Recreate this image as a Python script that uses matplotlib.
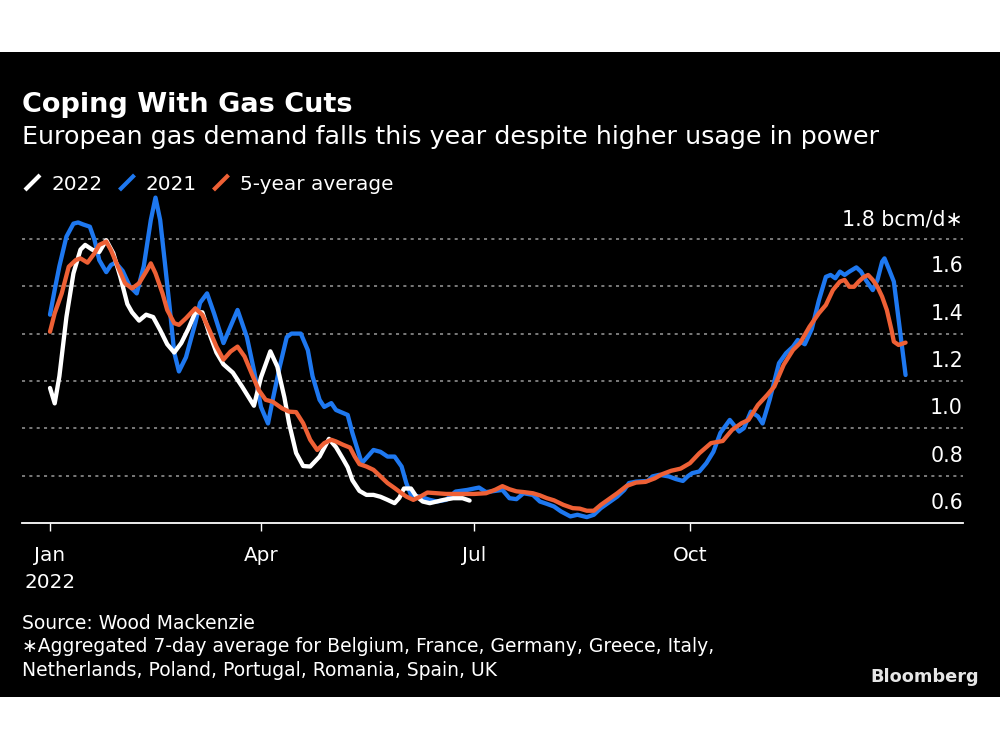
import matplotlib
matplotlib.use('Agg')
import matplotlib.pyplot as plt
from matplotlib.lines import Line2D
from matplotlib.patches import Rectangle
import numpy as np
import pandas as pd

plt.rcParams['font.family'] = ['DejaVu Sans']

# ---------------- data (day offsets from 1 Jan 2022, bcm/d) ----------------
START = '2022-01-01'

days_2022 = [0, 2, 4, 7, 10, 13, 15, 18, 21, 24, 27, 30, 33, 35, 38, 41, 44, 47, 50, 53,
             56, 59, 62, 65, 68, 71, 74, 78, 82, 87, 90, 94, 97, 100, 102, 105, 108, 111,
             115, 119, 122, 125, 127, 129, 132, 135, 138, 141, 144, 147, 149, 151, 154,
             156, 159, 162, 165, 168, 172, 176, 179]
vals_2022 = [1.17, 1.105, 1.22, 1.47, 1.655, 1.755, 1.775, 1.755, 1.745, 1.795, 1.74, 1.64,
             1.525, 1.49, 1.455, 1.48, 1.47, 1.415, 1.355, 1.32, 1.36, 1.42, 1.49, 1.49,
             1.40, 1.32, 1.27, 1.235, 1.175, 1.095, 1.215, 1.325, 1.26, 1.13, 1.02, 0.895,
             0.84, 0.838, 0.88, 0.955, 0.92, 0.87, 0.835, 0.78, 0.735, 0.718, 0.718, 0.71,
             0.697, 0.683, 0.705, 0.745, 0.745, 0.715, 0.69, 0.683, 0.69, 0.697, 0.704,
             0.704, 0.694]

days_2021 = [0, 2, 4, 7, 10, 12, 14, 17, 19, 21, 24, 26, 28, 31, 34, 37, 40, 43, 45, 47,
             49, 51, 53, 55, 58, 62, 64, 67, 70, 74, 77, 80, 84, 87, 90, 93, 95, 98, 101,
             103, 107, 110, 112, 115, 117, 120, 122, 127, 129, 133, 138, 141, 144, 147,
             150, 152, 154, 158, 162, 165, 169, 173, 178, 183, 186, 190, 193, 196, 199,
             202, 206, 209, 212, 215, 218, 222, 225, 229, 232, 235, 239, 242, 245, 247,
             250, 255, 257, 260, 264, 267, 270, 272, 274, 277, 280, 283, 286, 290, 294,
             296, 299, 302, 304, 307, 311, 314, 317, 319, 322, 325, 328, 331, 333, 335,
             337, 339, 341, 344, 346, 348, 351, 353, 355, 356, 358, 360, 365]
vals_2021 = [1.48, 1.585, 1.685, 1.81, 1.865, 1.87, 1.862, 1.852, 1.796, 1.711, 1.66, 1.69,
             1.70, 1.665, 1.60, 1.57, 1.685, 1.88, 1.975, 1.88, 1.70, 1.515, 1.32, 1.24,
             1.30, 1.445, 1.53, 1.57, 1.485, 1.36, 1.43, 1.50, 1.385, 1.245, 1.09, 1.02,
             1.12, 1.26, 1.385, 1.40, 1.40, 1.33, 1.22, 1.12, 1.09, 1.106, 1.077, 1.056,
             0.98, 0.852, 0.908, 0.90, 0.88, 0.88, 0.838, 0.768, 0.718, 0.71, 0.697, 0.69,
             0.697, 0.732, 0.739, 0.749, 0.73, 0.735, 0.739, 0.704, 0.70, 0.725, 0.718,
             0.69, 0.68, 0.669, 0.648, 0.627, 0.634, 0.624, 0.634, 0.662, 0.69, 0.711,
             0.739, 0.768, 0.774, 0.777, 0.796, 0.803, 0.796, 0.785, 0.777, 0.796, 0.81,
             0.817, 0.852, 0.90, 0.98, 1.035, 0.986, 1.00, 1.07, 1.05, 1.02, 1.12, 1.275,
             1.317, 1.345, 1.373, 1.355, 1.42, 1.54, 1.64, 1.648, 1.634, 1.662, 1.648,
             1.662, 1.68, 1.662, 1.627, 1.584, 1.627, 1.704, 1.718, 1.67, 1.62, 1.225]

days_avg = [0, 2, 5, 8, 11, 13, 16, 19, 21, 24, 26, 29, 32, 35, 38, 41, 43, 45, 48, 50, 53,
            55, 58, 62, 65, 68, 71, 74, 77, 80, 83, 86, 89, 92, 95, 99, 102, 105, 108, 111,
            114, 117, 120, 122, 125, 128, 130, 132, 135, 138, 141, 144, 147, 149, 152, 155,
            158, 161, 165, 169, 175, 181, 186, 190, 193, 196, 199, 202, 206, 209, 212, 215,
            219, 223, 226, 229, 232, 235, 238, 242, 246, 250, 254, 258, 261, 265, 269, 273,
            277, 282, 287, 291, 295, 298, 302, 306, 309, 313, 317, 320, 324, 328, 331, 334,
            337, 339, 341, 343, 345, 347, 349, 351, 353, 355, 357, 359, 360, 362, 365]
vals_avg = [1.408, 1.486, 1.57, 1.683, 1.711, 1.718, 1.70, 1.74, 1.775, 1.789, 1.753, 1.683,
            1.613, 1.591, 1.613, 1.662, 1.697, 1.655, 1.57, 1.50, 1.444, 1.437, 1.465, 1.507,
            1.479, 1.415, 1.345, 1.29, 1.324, 1.345, 1.303, 1.232, 1.162, 1.12, 1.112, 1.084,
            1.07, 1.068, 1.021, 0.951, 0.908, 0.937, 0.951, 0.944, 0.93, 0.918, 0.88, 0.848,
            0.838, 0.824, 0.796, 0.768, 0.747, 0.732, 0.711, 0.697, 0.711, 0.728, 0.725,
            0.722, 0.722, 0.722, 0.725, 0.74, 0.755, 0.742, 0.733, 0.73, 0.725, 0.716, 0.704,
            0.695, 0.676, 0.662, 0.66, 0.651, 0.651, 0.676, 0.697, 0.725, 0.756, 0.77, 0.773,
            0.788, 0.805, 0.82, 0.829, 0.852, 0.894, 0.937, 0.946, 0.993, 1.021, 1.035, 1.098,
            1.141, 1.176, 1.268, 1.331, 1.36, 1.429, 1.486, 1.521, 1.584, 1.62, 1.627, 1.598,
            1.598, 1.62, 1.638, 1.648, 1.627, 1.598, 1.556, 1.50, 1.415, 1.366, 1.352, 1.362]

series_labels = ['2022', '2021', '5-year average']
series_colors = ['#ffffff', '#1e78f0', '#ee6035']

y_ticks = [0.6, 0.8, 1.0, 1.2, 1.4, 1.6, 1.8]
y_tick_labels = ['0.6', '0.8', '1.0', '1.2', '1.4', '1.6', '1.8 bcm/d\u2217']
x_tick_dates = ['2022-01-01', '2022-04-01', '2022-07-01', '2022-10-01']
x_tick_labels = ['Jan\n2022', 'Apr', 'Jul', 'Oct']

title = 'Coping With Gas Cuts'
subtitle = 'European gas demand falls this year despite higher usage in power'
footer_lines = ['Source: Wood Mackenzie',
                '\u2217Aggregated 7-day average for Belgium, France, Germany, Greece, Italy,',
                'Netherlands, Poland, Portugal, Romania, Spain, UK']


def to_dates(days):
    return pd.Timestamp(START) + pd.to_timedelta(np.asarray(days, dtype=float), unit='D')


# ---------------- figure ----------------
W, H = 1000, 750
fig = plt.figure(figsize=(W / 100, H / 100), dpi=100)
fig.patch.set_facecolor('white')


def fy(py):
    return 1 - py / H


fig.patches.append(Rectangle((0, fy(697)), 1, (697 - 52) / H, transform=fig.transFigure,
                             facecolor='black', edgecolor='none', zorder=-10))

ax = fig.add_axes([22 / W, fy(522.8), (963 - 22) / W, 1.4 * 236.5 / H])
ax.set_facecolor('none')

ax.plot(to_dates(days_2021), vals_2021, color=series_colors[1], lw=3.1,
        solid_joinstyle='round', solid_capstyle='round', zorder=3)
ax.plot(to_dates(days_2022), vals_2022, color=series_colors[0], lw=3.1,
        solid_joinstyle='round', solid_capstyle='round', zorder=4)
ax.plot(to_dates(days_avg), vals_avg, color=series_colors[2], lw=3.1,
        solid_joinstyle='round', solid_capstyle='round', zorder=5)

x_left = pd.Timestamp(START) - pd.Timedelta(days=11.95)
x_right = pd.Timestamp(START) + pd.Timedelta(days=389.5)
ax.set_xlim(x_left, x_right)
ax.set_ylim(0.6, 2.0)

# grid
ax.set_yticks(y_ticks[1:])
ax.tick_params(axis='y', length=0, labelleft=False, labelright=False)
ax.yaxis.grid(True, color='#9a9a9a', lw=1.1, linestyle=(0, (2.0, 2.8)), zorder=1)
ax.set_axisbelow(True)

for s in ['top', 'right', 'left']:
    ax.spines[s].set_visible(False)
ax.spines['bottom'].set_color('white')
ax.spines['bottom'].set_linewidth(1.3)

ax.set_xticks(pd.to_datetime(x_tick_dates))
ax.set_xticklabels(x_tick_labels, color='white', fontsize=14.4, linespacing=1.55,
                   multialignment='center')
ax.tick_params(axis='x', direction='out', length=5.8, width=1.0, color='white', pad=11)

for v, lab in zip(y_ticks, y_tick_labels):
    ax.annotate(lab, xy=(1.0, v), xycoords=('axes fraction', 'data'), xytext=(0, 10),
                textcoords='offset points', ha='right', va='baseline', color='white',
                fontsize=14.8)

# titles
fig.text(22 / W, fy(111.5), title, color='white', fontsize=19.5, fontweight='bold',
         ha='left', va='baseline')
fig.text(22 / W, fy(144), subtitle, color='white', fontsize=18.3, ha='left', va='baseline')

# legend
mark_x = [25, 119.5, 213.5]
text_x = [51.5, 145.5, 240]
for mx, tx, lab, col in zip(mark_x, text_x, series_labels, series_colors):
    fig.add_artist(Line2D([mx / W, (mx + 15) / W], [fy(190), fy(175)], color=col, lw=3.0,
                          solid_capstyle='butt', transform=fig.transFigure))
    fig.text(tx / W, fy(190.5), lab, color='white', fontsize=14.4, ha='left', va='baseline')

# footer
for i, line in enumerate(footer_lines):
    fig.text(22 / W, fy(629 + 23.3 * i), line, color='white', fontsize=13.5, ha='left',
             va='baseline')

fig.text(979 / W, fy(682), 'Bloomberg', color='#e6e6e6', fontsize=12.8, fontweight='bold',
         ha='right', va='baseline')

fig.savefig('out.png', dpi=100, facecolor=fig.get_facecolor())
